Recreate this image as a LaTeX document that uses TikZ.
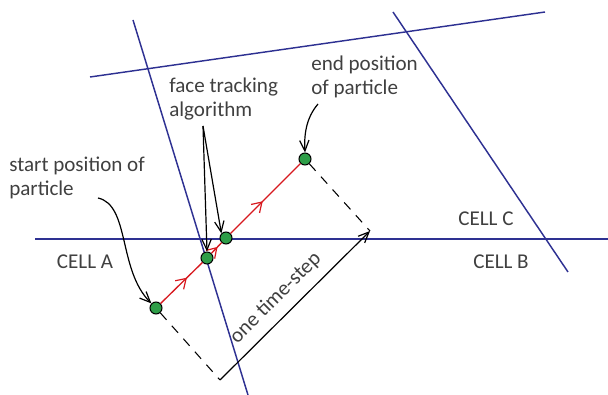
\documentclass[tikz,border=0pt]{standalone}
\usepackage{fontspec}
\setmainfont{Carlito}
\usetikzlibrary{arrows.meta,decorations.markings}
\definecolor{cellblue}{HTML}{2E3192}
\definecolor{pathred}{HTML}{D7191F}
\definecolor{partgreen}{HTML}{2E9E48}
\definecolor{txtgray}{HTML}{404040}
\tikzset{
  faceline/.style={draw=cellblue, line width=1.1pt},
  particle/.style={circle, draw=black, fill=partgreen, line width=0.8pt, minimum size=9pt, inner sep=0pt},
  label/.style={text=txtgray, font=\fontsize{15.8}{18}\selectfont, align=left, inner sep=0pt},
  pointer/.style={draw=black, line width=0.9pt, -{Straight Barb[length=8pt,width=7pt]}},
  redtip/.style={decoration={markings, mark=at position #1 with {\arrow[pathred, line width=0.9pt]{Straight Barb[length=7pt,width=9pt]}}}, postaction={decorate}},
  dashguide/.style={draw=black, line width=0.8pt, dash pattern=on 7pt off 6pt}
}
\begin{document}
\begin{tikzpicture}[x=0.75pt,y=-0.75pt]
\useasboundingbox (0,0) rectangle (608,395);
% cell faces
\draw[faceline] (35,239) -- (608,239);
\draw[faceline] (133,20) -- (248,395);
\draw[faceline] (90,77) -- (545,12);
\draw[faceline] (393,12) -- (568,272);
% particles
\node[particle] (s) at (156,308) {};
\node[particle] (m1) at (207,258) {};
\node[particle] (m2) at (226,238) {};
\node[particle] (e) at (305,159) {};
% red trajectory
\draw[pathred, line width=1pt, redtip=0.63] (s) -- (m1);
\draw[pathred, line width=1pt, redtip=0.6] (m1) -- (m2);
\draw[pathred, line width=1pt, redtip=0.46] (m2) -- (e);
% time-step guide
\coordinate (c) at (220,380);
\coordinate (t) at (370,231);
\draw[dashguide] (s) -- (c);
\draw[dashguide] (e) -- (t);
\draw[pointer] (c) -- node[pos=0.46, sloped, above=7pt, label] (ts) {one time-step} (t);
% labels (base = baseline of the last line)
\node[label, anchor=base west] (sl) at (9,196) {start position of\\particle};
\node[label, anchor=base west] (fl) at (169,117) {face tracking\\algorithm};
\node[label, anchor=base west] (el) at (311,95) {end position\\of particle};
\node[label] (ca) at (85,262) {CELL A};
\node[label] (cc) at (486,219) {CELL C};
\node[label] (cb) at (501,262) {CELL B};
% pointers
\coordinate (sa) at (98,198);
\draw[pointer] (sa) .. controls (130,205) and (118,270) .. (s.north west);
\coordinate (fa) at (203,126);
\draw[pointer] (fa) -- (m1.north);
\draw[pointer] (fa) -- (m2.north west);
\coordinate (ea) at (318,104);
\draw[pointer] (ea) .. controls (306,118) and (304,135) .. (e.north);
\end{tikzpicture}
\end{document}
